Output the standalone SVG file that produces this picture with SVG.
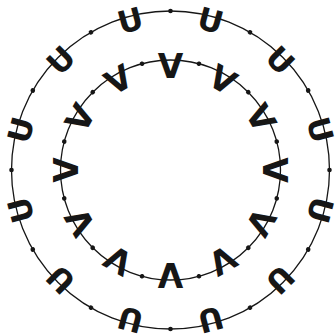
<svg xmlns="http://www.w3.org/2000/svg" width="335" height="334" viewBox="0 0 335 334">
<style>
.ring{fill:none;stroke:#161616;stroke-width:1.3}
.dot{fill:#161616}
.u{font-family:"DejaVu Sans",sans-serif;font-weight:bold;font-size:31px;fill:#161616;text-anchor:middle}
.v{font-family:"DejaVu Sans",sans-serif;font-weight:bold;font-size:33px;fill:#161616;text-anchor:middle}
</style>
<rect width="335" height="334" fill="#fff"/>
<g id="connectors" transform="translate(170.5,170)">
<circle class="ring" r="159"/>
<circle class="ring" r="110"/>
<g id="outer-dots">
<circle class="dot" r="2.3" cx="0" cy="-159"/>
<circle class="dot" r="2.3" transform="rotate(30)" cy="-159"/>
<circle class="dot" r="2.3" transform="rotate(60)" cy="-159"/>
<circle class="dot" r="2.3" transform="rotate(90)" cy="-159"/>
<circle class="dot" r="2.3" transform="rotate(120)" cy="-159"/>
<circle class="dot" r="2.3" transform="rotate(150)" cy="-159"/>
<circle class="dot" r="2.3" transform="rotate(180)" cy="-159"/>
<circle class="dot" r="2.3" transform="rotate(210)" cy="-159"/>
<circle class="dot" r="2.3" transform="rotate(240)" cy="-159"/>
<circle class="dot" r="2.3" transform="rotate(270)" cy="-159"/>
<circle class="dot" r="2.3" transform="rotate(300)" cy="-159"/>
<circle class="dot" r="2.3" transform="rotate(330)" cy="-159"/>
</g>
<g id="inner-dots">
<circle class="dot" r="2.3" transform="rotate(15)" cy="-110"/>
<circle class="dot" r="2.3" transform="rotate(45)" cy="-110"/>
<circle class="dot" r="2.3" transform="rotate(75)" cy="-110"/>
<circle class="dot" r="2.3" transform="rotate(105)" cy="-110"/>
<circle class="dot" r="2.3" transform="rotate(135)" cy="-110"/>
<circle class="dot" r="2.3" transform="rotate(165)" cy="-110"/>
<circle class="dot" r="2.3" transform="rotate(195)" cy="-110"/>
<circle class="dot" r="2.3" transform="rotate(225)" cy="-110"/>
<circle class="dot" r="2.3" transform="rotate(255)" cy="-110"/>
<circle class="dot" r="2.3" transform="rotate(285)" cy="-110"/>
<circle class="dot" r="2.3" transform="rotate(315)" cy="-110"/>
<circle class="dot" r="2.3" transform="rotate(345)" cy="-110"/>
</g>
</g>
<g id="outer-letters" transform="translate(170.5,170)">
<g id="u1" transform="rotate(15)"><text class="u" y="-144">U</text></g>
<g id="u2" transform="rotate(45)"><text class="u" y="-144">U</text></g>
<g id="u3" transform="rotate(75)"><text class="u" y="-144">U</text></g>
<g id="u4" transform="rotate(105)"><text class="u" y="-144">U</text></g>
<g id="u5" transform="rotate(135)"><text class="u" y="-144">U</text></g>
<g id="u6" transform="rotate(165)"><text class="u" y="-144">U</text></g>
<g id="u7" transform="rotate(195)"><text class="u" y="-144">U</text></g>
<g id="u8" transform="rotate(225)"><text class="u" y="-144">U</text></g>
<g id="u9" transform="rotate(255)"><text class="u" y="-144">U</text></g>
<g id="u10" transform="rotate(285)"><text class="u" y="-144">U</text></g>
<g id="u11" transform="rotate(315)"><text class="u" y="-144">U</text></g>
<g id="u12" transform="rotate(345)"><text class="u" y="-144">U</text></g>
</g>
<g id="inner-letters" transform="translate(170.5,170)">
<g id="v1" transform="rotate(0)"><text class="v" y="-92.5">V</text></g>
<g id="v2" transform="rotate(30)"><text class="v" y="-92.5">V</text></g>
<g id="v3" transform="rotate(60)"><text class="v" y="-92.5">V</text></g>
<g id="v4" transform="rotate(90)"><text class="v" y="-92.5">V</text></g>
<g id="v5" transform="rotate(120)"><text class="v" y="-92.5">V</text></g>
<g id="v6" transform="rotate(150)"><text class="v" y="-92.5">V</text></g>
<g id="v7" transform="rotate(180)"><text class="v" y="-92.5">V</text></g>
<g id="v8" transform="rotate(210)"><text class="v" y="-92.5">V</text></g>
<g id="v9" transform="rotate(240)"><text class="v" y="-92.5">V</text></g>
<g id="v10" transform="rotate(270)"><text class="v" y="-92.5">V</text></g>
<g id="v11" transform="rotate(300)"><text class="v" y="-92.5">V</text></g>
<g id="v12" transform="rotate(330)"><text class="v" y="-92.5">V</text></g>
</g>
</svg>
